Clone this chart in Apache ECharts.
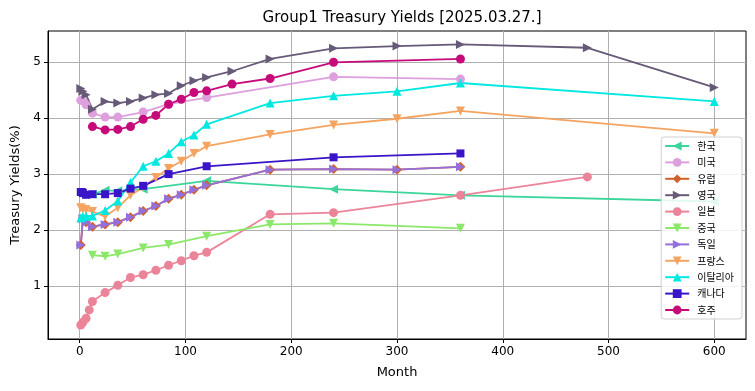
<!DOCTYPE html>
<html><head><meta charset="utf-8">
<script src="https://cdn.jsdelivr.net/npm/echarts@6/dist/echarts.min.js"></script>
<style>html,body{margin:0;padding:0;background:#fff}#c{width:755px;height:391px}</style>
</head><body><div id="c"></div>
<script>
const title = 'Group1 Treasury Yields [2025.03.27.]';
const xTicks = [0, 100, 200, 300, 400, 500, 600];
const yTicks = [1, 2, 3, 4, 5];

const krM = [12, 24, 36, 60, 120, 240, 360, 600];
const krV = [2.64, 2.71, 2.70, 2.73, 2.88, 2.73, 2.62, 2.51];
const usM = [1, 3, 6, 12, 24, 36, 60, 84, 120, 240, 360];
const usV = [4.32, 4.31, 4.24, 4.09, 4.02, 4.02, 4.11, 4.25, 4.37, 4.74, 4.70];
const euM = [1, 3, 6, 12, 24, 36, 48, 60, 72, 84, 96, 108, 120, 180, 240, 300, 360];
const euV = [1.73, 2.20, 2.14, 2.06, 2.10, 2.14, 2.23, 2.34, 2.43, 2.56, 2.63, 2.72, 2.80, 3.08, 3.09, 3.08, 3.13];
const ukM = [1, 3, 6, 12, 24, 36, 48, 60, 72, 84, 96, 108, 120, 144, 180, 240, 300, 360, 480, 600];
const ukV = [4.53, 4.48, 4.42, 4.16, 4.30, 4.27, 4.30, 4.36, 4.42, 4.44, 4.58, 4.67, 4.73, 4.84, 5.06, 5.25, 5.29, 5.32, 5.26, 4.55];
const jpM = [1, 3, 6, 9, 12, 24, 36, 48, 60, 72, 84, 96, 108, 120, 180, 240, 360, 480];
const jpV = [0.30, 0.35, 0.42, 0.57, 0.72, 0.88, 1.01, 1.15, 1.20, 1.28, 1.37, 1.45, 1.54, 1.60, 2.28, 2.31, 2.62, 2.95];
const cnM = [12, 24, 36, 60, 84, 120, 180, 240, 360];
const cnV = [1.55, 1.53, 1.57, 1.68, 1.74, 1.89, 2.10, 2.12, 2.03];
const deM = [1, 3, 6, 12, 24, 36, 48, 60, 72, 84, 96, 108, 120, 180, 240, 300, 360];
const deV = [1.73, 2.20, 2.14, 2.06, 2.10, 2.14, 2.23, 2.34, 2.43, 2.56, 2.63, 2.72, 2.80, 3.08, 3.09, 3.08, 3.13];
const frM = [1, 3, 6, 12, 24, 36, 48, 60, 72, 84, 96, 108, 120, 180, 240, 300, 360, 600];
const frV = [2.40, 2.37, 2.36, 2.33, 2.24, 2.40, 2.62, 2.76, 2.94, 3.10, 3.23, 3.37, 3.50, 3.71, 3.88, 3.99, 4.13, 3.73];
const itM = [1, 3, 6, 12, 24, 36, 48, 60, 72, 84, 96, 108, 120, 180, 240, 300, 360, 600];
const itV = [2.22, 2.24, 2.25, 2.25, 2.35, 2.52, 2.85, 3.14, 3.23, 3.37, 3.58, 3.70, 3.89, 4.27, 4.40, 4.48, 4.63, 4.30];
const caM = [1, 2, 3, 6, 12, 24, 36, 48, 60, 84, 120, 240, 360];
const caV = [2.68, 2.68, 2.66, 2.63, 2.64, 2.64, 2.66, 2.74, 2.79, 3.00, 3.14, 3.30, 3.37];
const auM = [12, 24, 36, 48, 60, 72, 84, 96, 108, 120, 144, 180, 240, 360];
const auV = [3.85, 3.79, 3.80, 3.85, 3.98, 4.05, 4.25, 4.34, 4.46, 4.49, 4.61, 4.71, 5.00, 5.06];

const TRI_UP = 'path://M5,0L10,10L0,10Z';
const TRI_DOWN = 'path://M0,0L10,0L5,10Z';
const TRI_LEFT = 'path://M0,5L10,0L10,10Z';
const TRI_RIGHT = 'path://M0,0L10,5L0,10Z';

const defs = [
  ['한국', krM, krV, '#3cd69a', TRI_LEFT, 9],
  ['미국', usM, usV, '#dd9fdd', 'circle', 9],
  ['유럽', euM, euV, '#d2602a', 'diamond', 10],
  ['영국', ukM, ukV, '#675a78', TRI_RIGHT, 9],
  ['일본', jpM, jpV, '#ec8499', 'circle', 9],
  ['중국', cnM, cnV, '#8ce86a', TRI_DOWN, 9],
  ['독일', deM, deV, '#9370db', TRI_RIGHT, 9],
  ['프랑스', frM, frV, '#f4a460', TRI_DOWN, 9],
  ['이탈리아', itM, itV, '#00e8e0', TRI_UP, 9],
  ['캐나다', caM, caV, '#3a14c8', 'rect', 8],
  ['호주', auM, auV, '#c70a7a', 'circle', 9]
];

const series = defs.map(([name, m, v, color, sym, size]) => ({
  name, type: 'line',
  data: m.map((x, i) => [x, v[i]]),
  symbol: sym, symbolSize: size, showAllSymbol: true,
  lineStyle: {color, width: 1.8},
  itemStyle: {color, borderWidth: 0},
  emphasis: {disabled: true},
  animation: false
}));

const chart = echarts.init(document.getElementById('c'), null, {renderer: 'canvas'});
chart.setOption({
  animation: false,
  backgroundColor: '#fff',
  title: {
    text: title, left: 397, top: 6, textAlign: 'center',
    textStyle: {fontFamily: 'DejaVu Sans', fontSize: 15, fontWeight: 'normal', color: '#000'}
  },
  grid: {left: 48, right: 9, top: 31, bottom: 52, show: true, borderColor: '#000', borderWidth: 1,
         backgroundColor: 'transparent', containLabel: false, outerBoundsMode: 'none'},
  legend: {
    orient: 'vertical', right: 13, top: 137,
    itemWidth: 24, itemHeight: 11, itemGap: 6.4,
    padding: [4, 8, 4, 3],
    backgroundColor: 'rgba(255,255,255,0.85)', borderColor: '#d0d0d0', borderWidth: 1, borderRadius: 3,
    textStyle: {fontFamily: 'Noto Sans CJK KR', fontSize: 10, color: '#000', padding: [0, 0, 0, 3]},
    data: defs.map(d => d[0])
  },
  xAxis: {
    type: 'value', min: -30, max: 630,
    name: 'Month', nameLocation: 'middle', nameGap: 27,
    nameTextStyle: {fontFamily: 'DejaVu Sans', fontSize: 13, color: '#000'},
    axisLine: {show: true, onZero: false, lineStyle: {color: '#000', width: 1}},
    axisTick: {show: true, length: 4, customValues: xTicks, lineStyle: {color: '#000'}},
    axisLabel: {customValues: xTicks, margin: 7, fontFamily: 'DejaVu Sans', fontSize: 12, color: '#000'},
    splitLine: {show: true, lineStyle: {color: '#b0b0b0', width: 1}}
  },
  yAxis: {
    type: 'value', min: 0.05, max: 5.56,
    name: 'Treasury Yields(%)', nameLocation: 'middle', nameGap: 24,
    nameTextStyle: {fontFamily: 'DejaVu Sans', fontSize: 13, color: '#000'},
    axisLine: {show: true, onZero: false, lineStyle: {color: '#000', width: 1}},
    axisTick: {show: true, length: 4, customValues: yTicks, lineStyle: {color: '#000'}},
    axisLabel: {customValues: yTicks, margin: 7, fontFamily: 'DejaVu Sans', fontSize: 12, color: '#000'},
    splitLine: {show: true, lineStyle: {color: '#b0b0b0', width: 1}}
  },
  series
});
</script>
</body></html>
